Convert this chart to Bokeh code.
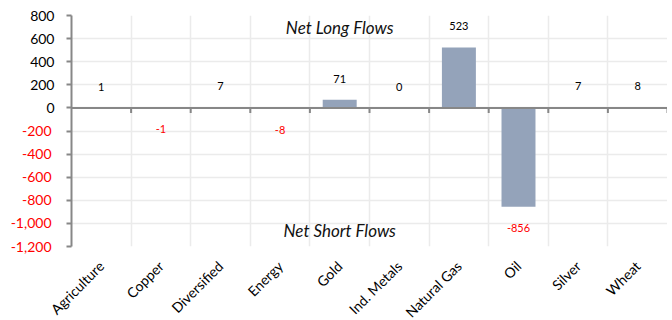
from math import pi
from bokeh.plotting import figure
from bokeh.models import (Range1d, FixedTicker, ColumnDataSource, LabelSet, Label,
                          Span, NumeralTickFormatter, LinearAxis)
from bokeh.embed import file_html
from bokeh.resources import INLINE
from bokeh.core.properties import value

categories = ["Agriculture", "Copper", "Diversified", "Energy", "Gold",
              "Ind. Metals", "Natural Gas", "Oil", "Silver", "Wheat"]
flows = [1, -1, 7, -8, 71, 0, 523, -856, 7, 8]
y_ticks = [800, 600, 400, 200, 0, -200, -400, -600, -800, -1000, -1200]

FONT = "Lato"
n = len(categories)
xs = [i + 0.5 for i in range(n)]
bounds = list(range(n + 1))

p = figure(frame_width=596, frame_height=231, x_range=Range1d(0, n),
           y_range=Range1d(-1200, 800), output_backend="svg", toolbar_location=None,
           min_border_left=71, min_border_right=0, min_border_top=15, min_border_bottom=0)
p.outline_line_color = None
p.background_fill_color = "white"

# grids
p.xgrid.ticker = FixedTicker(ticks=bounds)
p.ygrid.ticker = FixedTicker(ticks=y_ticks)
for g in (p.xgrid, p.ygrid):
    g.grid_line_color = "#EBEBEB"
    g.grid_line_width = 1.5

# bars
p.vbar(x=xs, top=flows, bottom=0, width=0.57, fill_color="#94A3BA", line_color=None)

# zero line and its ticks
p.add_layout(Span(location=0, dimension="width", line_color="#878787", line_width=2))
p.segment(x0=bounds[1:], x1=bounds[1:], y0=[0] * n, y1=[-45] * n,
          line_color="#878787", line_width=2)

# x axis
xa = p.xaxis[0]
xa.ticker = FixedTicker(ticks=xs)
xa.major_label_overrides = {x: c for x, c in zip(xs, categories)}
xa.major_label_orientation = pi / 4
xa.axis_line_color = None
xa.major_tick_line_color = None
xa.minor_tick_line_color = None
xa.major_label_text_font = FONT
xa.major_label_text_font_size = "14px"
xa.major_label_text_color = "#000000"
xa.major_label_standoff = 11

# y axis (line, ticks, black labels for 0 and positives)
ya = p.yaxis[0]
ya.ticker = FixedTicker(ticks=y_ticks)
ya.formatter = NumeralTickFormatter(format="0,0")
ya.major_label_overrides = {t: "" for t in y_ticks if t < 0}
ya.axis_line_color = "#878787"
ya.axis_line_width = 2
ya.major_tick_line_color = "#878787"
ya.major_tick_line_width = 2
ya.major_tick_out = 5
ya.major_tick_in = 0
ya.minor_tick_line_color = None
ya.major_label_text_font = FONT
ya.major_label_text_font_size = "14px"
ya.major_label_text_color = "#000000"
ya.major_label_standoff = 12

# second left axis carrying the red negative labels
ya2 = LinearAxis(ticker=FixedTicker(ticks=y_ticks),
                 formatter=NumeralTickFormatter(format="0,0"))
ya2.major_label_overrides = {t: "" for t in y_ticks if t >= 0}
ya2.axis_line_color = None
ya2.major_tick_line_color = None
ya2.minor_tick_line_color = None
ya2.major_tick_out = 0
ya2.major_tick_in = 0
ya2.major_label_text_font = FONT
ya2.major_label_text_font_size = "14px"
ya2.major_label_text_color = "#FF0000"
ya2.major_label_standoff = -24
p.add_layout(ya2, "left")

# data labels
lab_src = ColumnDataSource(dict(
    x=xs, y=flows, text=[str(v) for v in flows],
    color=["#FF0000" if v < 0 else "#000000" for v in flows],
    off=[-21 if v < 0 else 21 for v in flows]))
p.add_layout(LabelSet(x="x", y="y", text="text", y_offset="off", source=lab_src,
                      text_color="color", text_align="center", text_baseline="middle",
                      text_font=value(FONT), text_font_size="11px"))

p.add_layout(Label(x=4.5, y=693, text="Net Long Flows", text_align="center",
                   text_baseline="middle", text_font=FONT, text_font_size="17px",
                   text_font_style="italic", text_color="#111111"))
p.add_layout(Label(x=4.5, y=-1065, text="Net Short Flows", text_align="center",
                   text_baseline="middle", text_font=FONT, text_font_size="17px",
                   text_font_style="italic", text_color="#111111"))

open("out.html", "w").write(file_html(p, INLINE))
